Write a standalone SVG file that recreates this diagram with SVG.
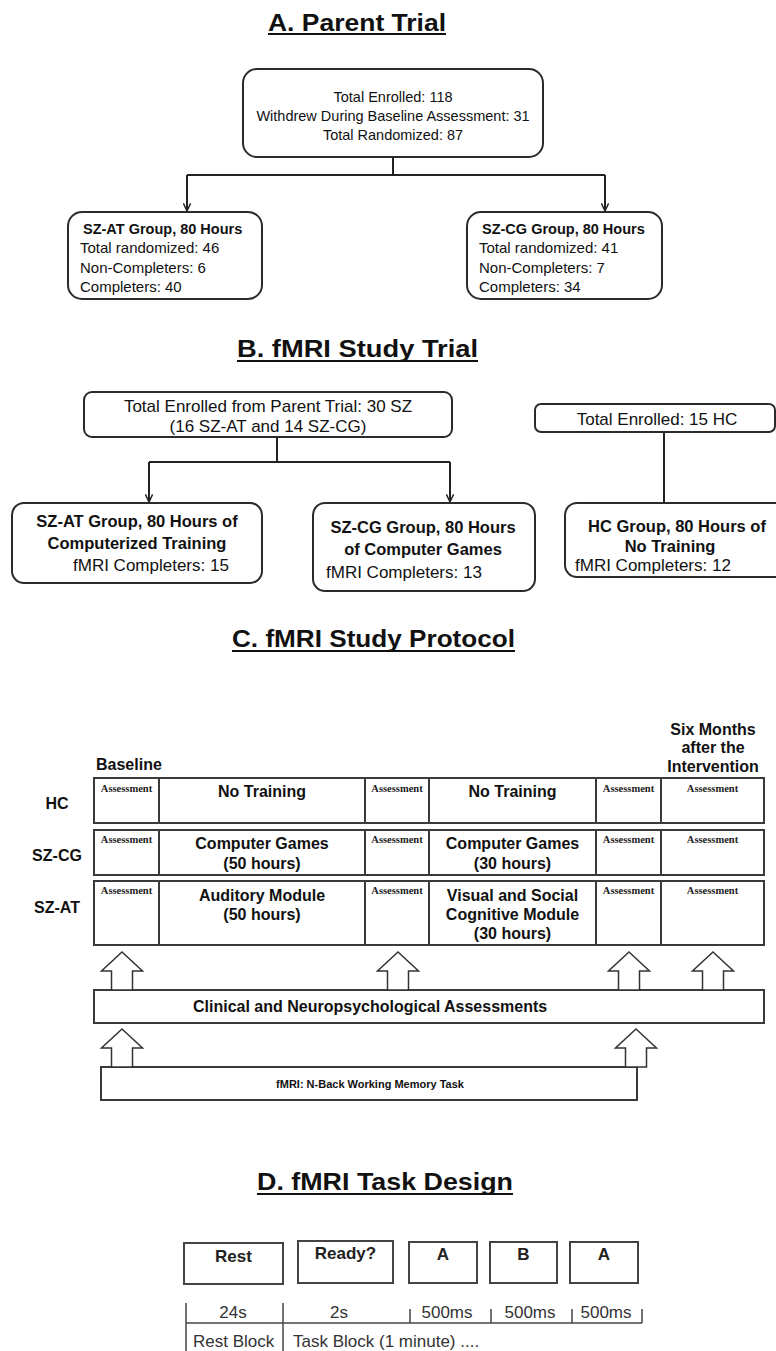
<svg xmlns="http://www.w3.org/2000/svg" width="776" height="1351" viewBox="0 0 776 1351">
<defs>
<style>
text { font-family: "Liberation Sans", Arial, sans-serif; fill: #111; }
.title { font-size: 24px; font-weight: bold; }
.uline { stroke: #111; stroke-width: 2; }
.rbox { fill: #fff; stroke: #2b2b2b; stroke-width: 2; }
.conn { fill: none; stroke: #222; stroke-width: 2; }
.a14 { font-size: 14.5px; text-anchor: middle; }
.a15 { font-size: 15px; }
.a15b { font-size: 14.5px; font-weight: bold; }
.b17 { font-size: 17px; }
.mid { text-anchor: middle; }
.b16b { font-size: 16.5px; font-weight: bold; }
.cell { fill: #fff; stroke: #3a3a3a; stroke-width: 2; }
.div { stroke: #3a3a3a; stroke-width: 2; }
.asmt { font-family: "Liberation Serif", "Times New Roman", serif; font-size: 10.5px; font-weight: bold; text-anchor: middle; fill: #222; }
.c16 { font-size: 16px; font-weight: bold; text-anchor: middle; }
.c16s { font-size: 16px; font-weight: bold; text-anchor: start; }
.blk { fill: #fff; stroke: #333; stroke-width: 1.5; stroke-linejoin: miter; }
.tbox { fill: #fff; stroke: #444; stroke-width: 2; }
.d17b { font-size: 17px; font-weight: bold; text-anchor: middle; fill: #222; }
.d17 { font-size: 17px; fill: #333; }
.tick { stroke: #444; stroke-width: 1.5; }
</style>
<marker id="arr" markerUnits="userSpaceOnUse" viewBox="0 0 10 10" refX="9.5" refY="5" markerWidth="9" markerHeight="9" orient="auto">
<path d="M1,1 L9.5,5 L1,9" fill="none" stroke="#222" stroke-width="1.6"/>
</marker>
</defs>
<rect width="776" height="1351" fill="#fff"/>

<!-- Section A -->
<g id="titleA">
<text class="title" x="268" y="31" textLength="178" lengthAdjust="spacingAndGlyphs">A. Parent Trial</text>
<line class="uline" x1="268" y1="34" x2="446" y2="34"/>
</g>
<g id="A_total">
<rect class="rbox" x="243" y="69" width="300" height="88" rx="14"/>
<text class="a14" x="393" y="102">Total Enrolled: 118</text>
<text class="a14" x="393" y="121">Withdrew During Baseline Assessment: 31</text>
<text class="a14" x="393" y="140">Total Randomized: 87</text>
</g>
<g id="A_szat">
<rect class="rbox" x="68" y="212" width="194" height="87" rx="14"/>
<text class="a15b" x="83" y="234">SZ-AT Group, 80 Hours</text>
<text class="a15" x="80" y="253">Total randomized: 46</text>
<text class="a15" x="80" y="273">Non-Completers: 6</text>
<text class="a15" x="80" y="292">Completers: 40</text>
</g>
<g id="A_szcg">
<rect class="rbox" x="467" y="212" width="195" height="87" rx="14"/>
<text class="a15b" x="482" y="234">SZ-CG Group, 80 Hours</text>
<text class="a15" x="479" y="253">Total randomized: 41</text>
<text class="a15" x="479" y="273">Non-Completers: 7</text>
<text class="a15" x="479" y="292">Completers: 34</text>
</g>

<!-- Section B -->
<g id="titleB">
<text class="title" x="237" y="357" textLength="241" lengthAdjust="spacingAndGlyphs">B.  fMRI Study Trial</text>
<line class="uline" x1="237" y1="361" x2="478" y2="361"/>
</g>
<g id="B_total">
<rect class="rbox" x="84" y="392" width="368" height="45" rx="8"/>
<text class="b17 mid" x="268" y="412">Total Enrolled from Parent Trial: 30 SZ</text>
<text class="b17 mid" x="268" y="432">(16 SZ-AT and 14 SZ-CG)</text>
</g>
<g id="B_hc_total">
<rect class="rbox" x="535" y="404" width="240" height="28" rx="6"/>
<text class="b17 mid" x="657" y="425">Total Enrolled:  15 HC</text>
</g>
<g id="B_szat">
<rect class="rbox" x="12" y="503" width="250" height="80" rx="12"/>
<text class="b16b mid" x="137" y="527">SZ-AT Group, 80 Hours of</text>
<text class="b16b mid" x="137" y="549">Computerized Training</text>
<text class="b17" x="73" y="571">fMRI Completers: 15</text>
</g>
<g id="B_szcg">
<rect class="rbox" x="313" y="503" width="222" height="88" rx="12"/>
<text class="b16b mid" x="423" y="533">SZ-CG Group, 80 Hours</text>
<text class="b16b mid" x="423" y="555">of Computer Games</text>
<text class="b17" x="326" y="578">fMRI Completers: 13</text>
</g>
<g id="B_hc">
<rect class="rbox" x="565" y="503" width="225" height="74" rx="12"/>
<text class="b16b mid" x="677" y="532">HC Group, 80 Hours of</text>
<text class="b16b mid" x="670" y="552">No Training</text>
<text class="b17" x="575" y="571">fMRI Completers: 12</text>
</g>

<!-- Section C -->
<g id="titleC">
<text class="title" x="232" y="647" textLength="283" lengthAdjust="spacingAndGlyphs">C. fMRI Study Protocol</text>
<line class="uline" x1="232" y1="651" x2="515" y2="651"/>
</g>
<g id="C_headers">
<text class="c16s" x="96" y="770">Baseline</text>
<text class="c16" x="713" y="735">Six Months</text>
<text class="c16" x="713" y="753">after the</text>
<text class="c16" x="713" y="772">Intervention</text>
<text class="c16" x="57" y="809">HC</text>
<text class="c16" x="57" y="861">SZ-CG</text>
<text class="c16" x="57" y="913">SZ-AT</text>
</g>
<g id="C_row_hc">
<rect class="cell" x="94" y="778" width="670" height="45"/>
<line class="div" x1="159" y1="778" x2="159" y2="823"/>
<line class="div" x1="365" y1="778" x2="365" y2="823"/>
<line class="div" x1="429" y1="778" x2="429" y2="823"/>
<line class="div" x1="596" y1="778" x2="596" y2="823"/>
<line class="div" x1="661" y1="778" x2="661" y2="823"/>
<text class="asmt" x="126.5" y="792">Assessment</text>
<text class="c16" x="262" y="797">No Training</text>
<text class="asmt" x="397" y="792">Assessment</text>
<text class="c16" x="512.5" y="797">No Training</text>
<text class="asmt" x="628.5" y="792">Assessment</text>
<text class="asmt" x="712.5" y="792">Assessment</text>
</g>
<g id="C_row_szcg">
<rect class="cell" x="94" y="830" width="670" height="45"/>
<line class="div" x1="159" y1="830" x2="159" y2="875"/>
<line class="div" x1="365" y1="830" x2="365" y2="875"/>
<line class="div" x1="429" y1="830" x2="429" y2="875"/>
<line class="div" x1="596" y1="830" x2="596" y2="875"/>
<line class="div" x1="661" y1="830" x2="661" y2="875"/>
<text class="asmt" x="126.5" y="843">Assessment</text>
<text class="c16" x="262" y="849">Computer Games</text>
<text class="c16" x="262" y="869">(50 hours)</text>
<text class="asmt" x="397" y="843">Assessment</text>
<text class="c16" x="512.5" y="849">Computer Games</text>
<text class="c16" x="512.5" y="869">(30 hours)</text>
<text class="asmt" x="628.5" y="843">Assessment</text>
<text class="asmt" x="712.5" y="843">Assessment</text>
</g>
<g id="C_row_szat">
<rect class="cell" x="94" y="881" width="670" height="64"/>
<line class="div" x1="159" y1="881" x2="159" y2="945"/>
<line class="div" x1="365" y1="881" x2="365" y2="945"/>
<line class="div" x1="429" y1="881" x2="429" y2="945"/>
<line class="div" x1="596" y1="881" x2="596" y2="945"/>
<line class="div" x1="661" y1="881" x2="661" y2="945"/>
<text class="asmt" x="126.5" y="894">Assessment</text>
<text class="c16" x="262" y="901">Auditory Module</text>
<text class="c16" x="262" y="920">(50 hours)</text>
<text class="asmt" x="397" y="894">Assessment</text>
<text class="c16" x="512.5" y="901">Visual and Social</text>
<text class="c16" x="512.5" y="920">Cognitive Module</text>
<text class="c16" x="512.5" y="939">(30 hours)</text>
<text class="asmt" x="628.5" y="894">Assessment</text>
<text class="asmt" x="712.5" y="894">Assessment</text>
</g>
<g id="C_clinical">
<rect class="cell" x="94" y="990" width="670" height="33"/>
<text class="c16s" x="193" y="1012">Clinical and Neuropsychological Assessments</text>
</g>
<g id="C_fmri">
<rect class="cell" x="101" y="1067" width="536" height="33"/>
<text class="c16" x="370" y="1088" style="font-size:11px">fMRI: N-Back Working Memory Task</text>
</g>

<!-- Section D -->
<g id="titleD">
<text class="title" x="257" y="1190" textLength="256" lengthAdjust="spacingAndGlyphs">D. fMRI Task Design</text>
<line class="uline" x1="257" y1="1194" x2="513" y2="1194"/>
</g>
<g id="D_rest">
<rect class="tbox" x="184" y="1243" width="99" height="41"/>
<text class="d17b" x="233.5" y="1262">Rest</text>
</g>
<g id="D_ready">
<rect class="tbox" x="298" y="1241" width="95" height="42"/>
<text class="d17b" x="345.5" y="1259">Ready?</text>
</g>
<g id="D_a1">
<rect class="tbox" x="409" y="1242" width="68" height="41"/>
<text class="d17b" x="443" y="1260">A</text>
</g>
<g id="D_b">
<rect class="tbox" x="490" y="1242" width="67" height="41"/>
<text class="d17b" x="523.5" y="1260">B</text>
</g>
<g id="D_a2">
<rect class="tbox" x="570" y="1242" width="68" height="41"/>
<text class="d17b" x="604" y="1260">A</text>
</g>
<g id="D_timeline">
<line class="tick" x1="186" y1="1323" x2="642" y2="1323"/>
<line class="tick" x1="186" y1="1303" x2="186" y2="1351"/>
<line class="tick" x1="283" y1="1303" x2="283" y2="1351"/>
<line class="tick" x1="410" y1="1309" x2="410" y2="1323"/>
<line class="tick" x1="491" y1="1309" x2="491" y2="1323"/>
<line class="tick" x1="572" y1="1309" x2="572" y2="1323"/>
<line class="tick" x1="642" y1="1309" x2="642" y2="1323"/>
<text class="d17 mid" x="233" y="1318">24s</text>
<text class="d17 mid" x="339" y="1318">2s</text>
<text class="d17 mid" x="447" y="1318">500ms</text>
<text class="d17 mid" x="530" y="1318">500ms</text>
<text class="d17 mid" x="606" y="1318">500ms</text>
<text class="d17" x="193" y="1347">Rest Block</text>
<text class="d17" x="293" y="1347">Task Block (1 minute) ....</text>
</g>

<!-- Connectors -->
<g id="connectors">
<path class="conn" d="M393,157 V175" stroke="#666"/>
<path class="conn" d="M187,175 H605"/>
<path class="conn" d="M187,175 V211" marker-end="url(#arr)"/>
<path class="conn" d="M605,175 V211" marker-end="url(#arr)"/>
<path class="conn" d="M277,437 V462"/>
<path class="conn" d="M149,462 H450"/>
<path class="conn" d="M149,462 V502" marker-end="url(#arr)"/>
<path class="conn" d="M450,462 V502" marker-end="url(#arr)"/>
<path class="conn" d="M664,432 V503" stroke-width="2.5"/>
<polygon class="blk" points="122,952 142.5,971 132.5,971 132.5,990 111.5,990 111.5,971 101.5,971"/>
<polygon class="blk" points="398,952 418.5,971 408.5,971 408.5,990 387.5,990 387.5,971 377.5,971"/>
<polygon class="blk" points="629,952 649.5,971 639.5,971 639.5,990 618.5,990 618.5,971 608.5,971"/>
<polygon class="blk" points="713,952 733.5,971 723.5,971 723.5,990 702.5,990 702.5,971 692.5,971"/>
<polygon class="blk" points="122,1029 142.5,1048 132.5,1048 132.5,1067 111.5,1067 111.5,1048 101.5,1048"/>
<polygon class="blk" points="636,1029 656.5,1048 646.5,1048 646.5,1067 625.5,1067 625.5,1048 615.5,1048"/>
</g>
</svg>
